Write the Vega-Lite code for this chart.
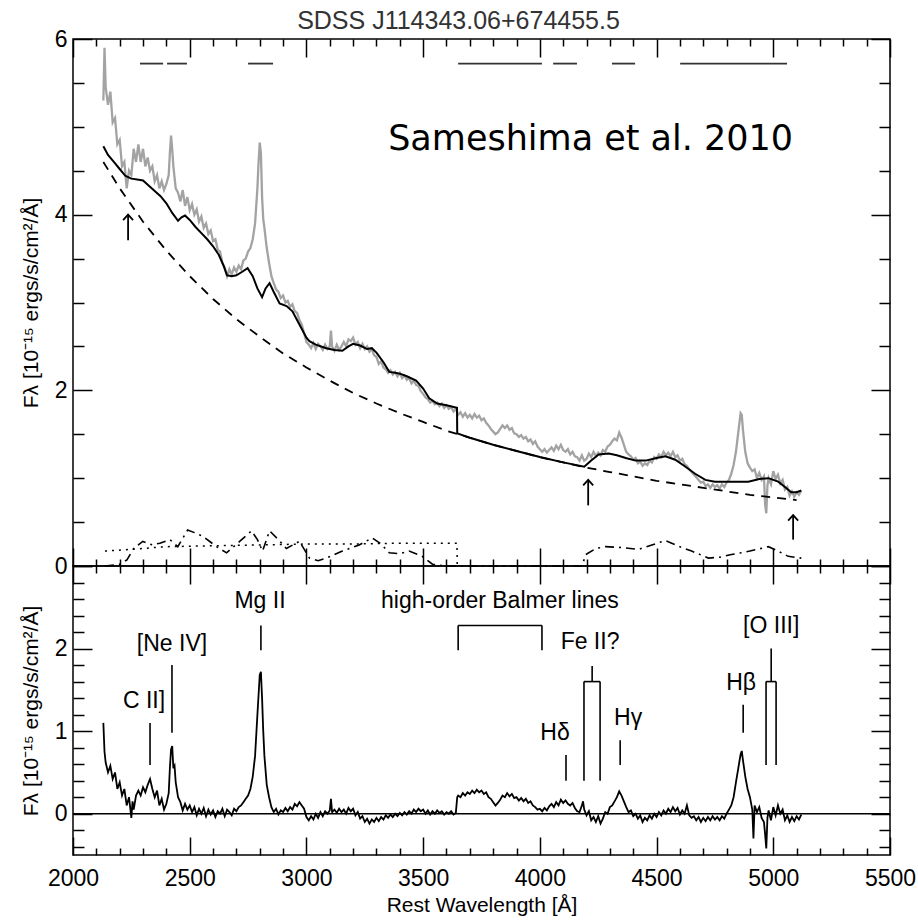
{
"$schema": "https://vega.github.io/schema/vega-lite/v6.json",
"padding": {"left": 19, "top": 8, "right": 5, "bottom": 2},
"spacing": 0,
"bounds": "flush",
"config": {
 "view": {"stroke": "black", "strokeWidth": 1.5},
 "axis": {"domain": false, "grid": false, "minExtent": 0, "tickColor": "black", "tickWidth": 1.5, "labelFont": "Liberation Sans", "labelFontSize": 23, "labelColor": "black", "labelFlush": false, "labelOverlap": false, "titleFont": "Liberation Sans", "titleFontSize": 21, "titleFontWeight": "normal", "titleColor": "black"},
 "text": {"font": "Liberation Sans"}
},
"datasets": {
 "gray": [
{"x":2130,"y":5.3},{"x":2135,"y":5.9},{"x":2140,"y":5.45},{"x":2150,"y":5.25},{"x":2160,"y":5.4},{"x":2170,"y":5.05},{"x":2180,"y":5.1},{"x":2190,"y":4.8},{"x":2200,"y":4.85},{"x":2210,"y":4.55},{"x":2220,"y":4.6},{"x":2230,"y":4.3},{"x":2240,"y":4.5},{"x":2250,"y":4.45},{"x":2260,"y":4.75},{"x":2270,"y":4.6},{"x":2280,"y":4.8},{"x":2290,"y":4.6},{"x":2300,"y":4.75},{"x":2310,"y":4.55},{"x":2320,"y":4.65},{"x":2330,"y":4.5},{"x":2340,"y":4.55},{"x":2350,"y":4.38},{"x":2360,"y":4.45},{"x":2370,"y":4.3},{"x":2380,"y":4.38},{"x":2390,"y":4.28},{"x":2400,"y":4.35},{"x":2410,"y":4.45},{"x":2415,"y":4.7},{"x":2420,"y":4.9},{"x":2425,"y":4.75},{"x":2430,"y":4.55},{"x":2440,"y":4.3},{"x":2450,"y":4.25},{"x":2460,"y":4.15},{"x":2470,"y":4.28},{"x":2480,"y":4.1},{"x":2490,"y":4.2},{"x":2500,"y":4.05},{"x":2510,"y":4.12},{"x":2520,"y":4.0},{"x":2530,"y":4.06},{"x":2540,"y":3.92},{"x":2550,"y":3.98},{"x":2560,"y":3.85},{"x":2570,"y":3.9},{"x":2580,"y":3.78},{"x":2590,"y":3.82},{"x":2600,"y":3.7},{"x":2610,"y":3.72},{"x":2620,"y":3.6},{"x":2630,"y":3.58},{"x":2640,"y":3.45},{"x":2650,"y":3.4},{"x":2660,"y":3.3},{"x":2670,"y":3.38},{"x":2680,"y":3.32},{"x":2690,"y":3.4},{"x":2700,"y":3.35},{"x":2710,"y":3.42},{"x":2720,"y":3.38},{"x":2730,"y":3.48},{"x":2740,"y":3.5},{"x":2750,"y":3.58},{"x":2760,"y":3.62},{"x":2770,"y":3.72},{"x":2780,"y":3.9},{"x":2790,"y":4.3},{"x":2795,"y":4.6},{"x":2800,"y":4.82},{"x":2805,"y":4.7},{"x":2810,"y":4.2},{"x":2815,"y":3.95},{"x":2820,"y":3.85},{"x":2830,"y":3.62},{"x":2840,"y":3.45},{"x":2850,"y":3.3},{"x":2860,"y":3.22},{"x":2870,"y":3.15},{"x":2880,"y":3.12},{"x":2890,"y":3.05},{"x":2900,"y":3.08},{"x":2910,"y":3.0},{"x":2920,"y":3.02},{"x":2930,"y":2.95},{"x":2940,"y":2.98},{"x":2950,"y":2.9},{"x":2960,"y":2.88},{"x":2970,"y":2.8},{"x":2980,"y":2.75},{"x":2990,"y":2.65},{"x":3000,"y":2.55},{"x":3010,"y":2.52},{"x":3020,"y":2.48},{"x":3030,"y":2.54},{"x":3040,"y":2.47},{"x":3050,"y":2.53},{"x":3060,"y":2.5},{"x":3070,"y":2.46},{"x":3080,"y":2.52},{"x":3090,"y":2.47},{"x":3100,"y":2.5},{"x":3105,"y":2.68},{"x":3110,"y":2.5},{"x":3120,"y":2.45},{"x":3130,"y":2.52},{"x":3140,"y":2.46},{"x":3150,"y":2.5},{"x":3160,"y":2.55},{"x":3170,"y":2.5},{"x":3180,"y":2.58},{"x":3190,"y":2.56},{"x":3200,"y":2.6},{"x":3210,"y":2.52},{"x":3220,"y":2.55},{"x":3230,"y":2.48},{"x":3240,"y":2.53},{"x":3250,"y":2.47},{"x":3260,"y":2.5},{"x":3270,"y":2.44},{"x":3280,"y":2.47},{"x":3290,"y":2.4},{"x":3300,"y":2.38},{"x":3310,"y":2.3},{"x":3320,"y":2.33},{"x":3330,"y":2.26},{"x":3340,"y":2.24},{"x":3350,"y":2.2},{"x":3360,"y":2.23},{"x":3370,"y":2.18},{"x":3380,"y":2.21},{"x":3390,"y":2.16},{"x":3400,"y":2.2},{"x":3410,"y":2.14},{"x":3420,"y":2.17},{"x":3430,"y":2.12},{"x":3440,"y":2.14},{"x":3450,"y":2.08},{"x":3460,"y":2.11},{"x":3470,"y":2.06},{"x":3480,"y":2.05},{"x":3490,"y":1.99},{"x":3500,"y":1.96},{"x":3510,"y":1.92},{"x":3520,"y":1.9},{"x":3530,"y":1.86},{"x":3540,"y":1.88},{"x":3550,"y":1.84},{"x":3560,"y":1.86},{"x":3570,"y":1.82},{"x":3580,"y":1.85},{"x":3590,"y":1.8},{"x":3600,"y":1.83},{"x":3610,"y":1.79},{"x":3620,"y":1.81},{"x":3630,"y":1.76},{"x":3640,"y":1.79},{"x":3650,"y":1.72},{"x":3660,"y":1.75},{"x":3670,"y":1.7},{"x":3680,"y":1.74},{"x":3690,"y":1.69},{"x":3700,"y":1.72},{"x":3710,"y":1.68},{"x":3720,"y":1.73},{"x":3730,"y":1.69},{"x":3740,"y":1.71},{"x":3750,"y":1.66},{"x":3760,"y":1.68},{"x":3770,"y":1.63},{"x":3780,"y":1.6},{"x":3790,"y":1.56},{"x":3800,"y":1.53},{"x":3810,"y":1.5},{"x":3820,"y":1.52},{"x":3830,"y":1.56},{"x":3840,"y":1.6},{"x":3850,"y":1.57},{"x":3860,"y":1.6},{"x":3870,"y":1.55},{"x":3880,"y":1.57},{"x":3890,"y":1.51},{"x":3900,"y":1.5},{"x":3910,"y":1.47},{"x":3920,"y":1.49},{"x":3930,"y":1.45},{"x":3940,"y":1.47},{"x":3950,"y":1.42},{"x":3960,"y":1.44},{"x":3970,"y":1.39},{"x":3980,"y":1.42},{"x":3990,"y":1.36},{"x":4000,"y":1.33},{"x":4010,"y":1.3},{"x":4020,"y":1.33},{"x":4030,"y":1.29},{"x":4040,"y":1.32},{"x":4050,"y":1.35},{"x":4060,"y":1.31},{"x":4070,"y":1.37},{"x":4080,"y":1.33},{"x":4090,"y":1.38},{"x":4100,"y":1.32},{"x":4110,"y":1.3},{"x":4120,"y":1.33},{"x":4130,"y":1.27},{"x":4140,"y":1.3},{"x":4150,"y":1.25},{"x":4160,"y":1.24},{"x":4170,"y":1.2},{"x":4180,"y":1.26},{"x":4190,"y":1.2},{"x":4200,"y":1.22},{"x":4210,"y":1.28},{"x":4220,"y":1.24},{"x":4230,"y":1.3},{"x":4240,"y":1.25},{"x":4250,"y":1.29},{"x":4260,"y":1.26},{"x":4270,"y":1.32},{"x":4280,"y":1.3},{"x":4290,"y":1.36},{"x":4300,"y":1.38},{"x":4310,"y":1.42},{"x":4320,"y":1.45},{"x":4330,"y":1.43},{"x":4340,"y":1.52},{"x":4350,"y":1.46},{"x":4360,"y":1.38},{"x":4370,"y":1.3},{"x":4380,"y":1.27},{"x":4390,"y":1.25},{"x":4400,"y":1.21},{"x":4410,"y":1.23},{"x":4420,"y":1.17},{"x":4430,"y":1.19},{"x":4440,"y":1.14},{"x":4450,"y":1.17},{"x":4460,"y":1.15},{"x":4470,"y":1.2},{"x":4480,"y":1.18},{"x":4490,"y":1.24},{"x":4500,"y":1.22},{"x":4510,"y":1.27},{"x":4520,"y":1.24},{"x":4530,"y":1.3},{"x":4540,"y":1.26},{"x":4550,"y":1.29},{"x":4560,"y":1.25},{"x":4570,"y":1.3},{"x":4580,"y":1.24},{"x":4590,"y":1.26},{"x":4600,"y":1.2},{"x":4610,"y":1.22},{"x":4620,"y":1.16},{"x":4630,"y":1.14},{"x":4640,"y":1.1},{"x":4650,"y":1.07},{"x":4660,"y":1.04},{"x":4670,"y":1.01},{"x":4680,"y":0.98},{"x":4690,"y":0.95},{"x":4700,"y":0.96},{"x":4710,"y":0.91},{"x":4720,"y":0.93},{"x":4730,"y":0.89},{"x":4740,"y":0.93},{"x":4750,"y":0.9},{"x":4760,"y":0.92},{"x":4770,"y":0.88},{"x":4780,"y":0.93},{"x":4790,"y":0.9},{"x":4800,"y":0.95},{"x":4810,"y":0.98},{"x":4820,"y":1.05},{"x":4830,"y":1.15},{"x":4840,"y":1.3},{"x":4850,"y":1.52},{"x":4860,"y":1.74},{"x":4865,"y":1.72},{"x":4870,"y":1.55},{"x":4880,"y":1.3},{"x":4890,"y":1.17},{"x":4900,"y":1.12},{"x":4910,"y":1.08},{"x":4920,"y":1.1},{"x":4930,"y":1.0},{"x":4940,"y":1.06},{"x":4950,"y":0.98},{"x":4960,"y":1.02},{"x":4965,"y":0.7},{"x":4970,"y":0.6},{"x":4975,"y":0.92},{"x":4980,"y":1.0},{"x":4990,"y":0.93},{"x":5000,"y":1.08},{"x":5010,"y":0.99},{"x":5020,"y":1.04},{"x":5030,"y":0.94},{"x":5040,"y":0.98},{"x":5050,"y":0.87},{"x":5060,"y":0.9},{"x":5070,"y":0.8},{"x":5080,"y":0.85},{"x":5090,"y":0.79},{"x":5100,"y":0.84},{"x":5110,"y":0.81},{"x":5120,"y":0.86}
 ],
 "model": [
{"x":2130,"y":4.78},{"x":2150,"y":4.68},{"x":2175,"y":4.6},{"x":2200,"y":4.52},{"x":2225,"y":4.44},{"x":2250,"y":4.41},{"x":2275,"y":4.4},{"x":2300,"y":4.39},{"x":2325,"y":4.33},{"x":2350,"y":4.27},{"x":2375,"y":4.21},{"x":2400,"y":4.13},{"x":2425,"y":4.02},{"x":2450,"y":3.93},{"x":2465,"y":3.97},{"x":2480,"y":3.99},{"x":2500,"y":3.94},{"x":2525,"y":3.86},{"x":2550,"y":3.79},{"x":2575,"y":3.72},{"x":2600,"y":3.64},{"x":2625,"y":3.54},{"x":2645,"y":3.42},{"x":2660,"y":3.31},{"x":2680,"y":3.3},{"x":2700,"y":3.31},{"x":2725,"y":3.35},{"x":2748,"y":3.39},{"x":2770,"y":3.3},{"x":2790,"y":3.16},{"x":2810,"y":3.06},{"x":2825,"y":3.16},{"x":2842,"y":3.22},{"x":2860,"y":3.12},{"x":2885,"y":2.99},{"x":2915,"y":2.96},{"x":2940,"y":2.9},{"x":2970,"y":2.75},{"x":3000,"y":2.6},{"x":3013,"y":2.56},{"x":3040,"y":2.52},{"x":3085,"y":2.48},{"x":3120,"y":2.46},{"x":3154,"y":2.45},{"x":3180,"y":2.5},{"x":3200,"y":2.53},{"x":3230,"y":2.51},{"x":3260,"y":2.47},{"x":3280,"y":2.48},{"x":3300,"y":2.43},{"x":3330,"y":2.32},{"x":3355,"y":2.21},{"x":3380,"y":2.2},{"x":3400,"y":2.19},{"x":3430,"y":2.16},{"x":3470,"y":2.11},{"x":3500,"y":2.02},{"x":3526,"y":1.91},{"x":3560,"y":1.85},{"x":3600,"y":1.83},{"x":3645,"y":1.8},{"x":3646,"y":1.51},{"x":3700,"y":1.46},{"x":3800,"y":1.38},{"x":3900,"y":1.31},{"x":4000,"y":1.24},{"x":4100,"y":1.18},{"x":4190,"y":1.13},{"x":4220,"y":1.2},{"x":4252,"y":1.27},{"x":4295,"y":1.28},{"x":4330,"y":1.26},{"x":4368,"y":1.23},{"x":4410,"y":1.2},{"x":4453,"y":1.2},{"x":4500,"y":1.23},{"x":4538,"y":1.25},{"x":4580,"y":1.21},{"x":4624,"y":1.13},{"x":4665,"y":1.05},{"x":4709,"y":0.98},{"x":4750,"y":0.96},{"x":4800,"y":0.96},{"x":4850,"y":0.96},{"x":4893,"y":0.96},{"x":4940,"y":0.99},{"x":4979,"y":1.0},{"x":5021,"y":0.96},{"x":5050,"y":0.9},{"x":5077,"y":0.84},{"x":5100,"y":0.84},{"x":5120,"y":0.86}
 ],
 "plaw": [
{"x":2130,"y":4.6},{"x":2200,"y":4.3},{"x":2300,"y":3.92},{"x":2400,"y":3.59},{"x":2500,"y":3.3},{"x":2600,"y":3.04},{"x":2700,"y":2.81},{"x":2800,"y":2.61},{"x":2900,"y":2.42},{"x":3000,"y":2.26},{"x":3100,"y":2.11},{"x":3200,"y":1.97},{"x":3300,"y":1.85},{"x":3400,"y":1.74},{"x":3500,"y":1.64},{"x":3600,"y":1.54},{"x":3700,"y":1.46},{"x":3800,"y":1.38},{"x":3900,"y":1.31},{"x":4000,"y":1.24},{"x":4100,"y":1.18},{"x":4200,"y":1.12},{"x":4300,"y":1.07},{"x":4400,"y":1.02},{"x":4500,"y":0.97},{"x":4600,"y":0.93},{"x":4700,"y":0.89},{"x":4800,"y":0.85},{"x":4900,"y":0.81},{"x":5000,"y":0.78},{"x":5100,"y":0.75}
 ],
 "balmer": [
{"x":2137,"y":0.17},{"x":2250,"y":0.19},{"x":2400,"y":0.22},{"x":2600,"y":0.23},{"x":2800,"y":0.24},{"x":3000,"y":0.25},{"x":3200,"y":0.25},{"x":3400,"y":0.26},{"x":3645,"y":0.26},{"x":3646,"y":0.0}
 ],
 "feii": [
{"x":2137,"y":0.0},{"x":2200,"y":0.02},{"x":2231,"y":0.07},{"x":2260,"y":0.2},{"x":2299,"y":0.28},{"x":2340,"y":0.24},{"x":2372,"y":0.26},{"x":2415,"y":0.3},{"x":2449,"y":0.22},{"x":2491,"y":0.41},{"x":2520,"y":0.38},{"x":2556,"y":0.34},{"x":2615,"y":0.22},{"x":2658,"y":0.15},{"x":2714,"y":0.28},{"x":2765,"y":0.4},{"x":2790,"y":0.3},{"x":2812,"y":0.17},{"x":2842,"y":0.4},{"x":2880,"y":0.3},{"x":2914,"y":0.2},{"x":2970,"y":0.28},{"x":3013,"y":0.09},{"x":3050,"y":0.06},{"x":3085,"y":0.09},{"x":3154,"y":0.17},{"x":3226,"y":0.24},{"x":3282,"y":0.32},{"x":3320,"y":0.25},{"x":3355,"y":0.15},{"x":3400,"y":0.14},{"x":3440,"y":0.17},{"x":3496,"y":0.11},{"x":3540,"y":0.02},{"x":3600,"y":0.0},{"x":3800,"y":0.0},{"x":4000,"y":0.0},{"x":4180,"y":0.0},{"x":4197,"y":0.13},{"x":4240,"y":0.2},{"x":4282,"y":0.22},{"x":4350,"y":0.21},{"x":4423,"y":0.19},{"x":4480,"y":0.24},{"x":4538,"y":0.29},{"x":4600,"y":0.22},{"x":4650,"y":0.17},{"x":4722,"y":0.09},{"x":4770,"y":0.1},{"x":4821,"y":0.13},{"x":4900,"y":0.17},{"x":4979,"y":0.22},{"x":5020,"y":0.17},{"x":5064,"y":0.11},{"x":5120,"y":0.09}
 ],
 "segs": [
{"x":2287,"x2":2386,"y":5.72},{"x":2403,"x2":2488,"y":5.72},{"x":2750,"x2":2857,"y":5.72},{"x":3650,"x2":4009,"y":5.72},{"x":4057,"x2":4159,"y":5.72},{"x":4309,"x2":4408,"y":5.72},{"x":4601,"x2":5059,"y":5.72}
 ],
 "arrows": [
{"x":2236,"y":3.71,"y2":4.0},{"x":4207,"y":0.69,"y2":0.98},{"x":5085,"y":0.3,"y2":0.58}
 ],
 "resid": [
{"x":2130,"y":1.1},{"x":2135,"y":0.75},{"x":2140,"y":0.62},{"x":2150,"y":0.5},{"x":2160,"y":0.58},{"x":2170,"y":0.42},{"x":2180,"y":0.5},{"x":2190,"y":0.3},{"x":2200,"y":0.38},{"x":2210,"y":0.22},{"x":2220,"y":0.3},{"x":2230,"y":0.1},{"x":2240,"y":0.2},{"x":2250,"y":-0.05},{"x":2255,"y":0.15},{"x":2260,"y":0.05},{"x":2270,"y":0.22},{"x":2280,"y":0.28},{"x":2290,"y":0.22},{"x":2300,"y":0.32},{"x":2310,"y":0.26},{"x":2320,"y":0.35},{"x":2330,"y":0.42},{"x":2340,"y":0.3},{"x":2350,"y":0.2},{"x":2360,"y":0.28},{"x":2370,"y":0.1},{"x":2380,"y":0.18},{"x":2390,"y":0.05},{"x":2400,"y":0.12},{"x":2410,"y":0.25},{"x":2415,"y":0.55},{"x":2420,"y":0.78},{"x":2425,"y":0.82},{"x":2430,"y":0.55},{"x":2435,"y":0.58},{"x":2440,"y":0.38},{"x":2450,"y":0.2},{"x":2460,"y":0.14},{"x":2470,"y":0.04},{"x":2480,"y":0.12},{"x":2490,"y":0.05},{"x":2500,"y":0.1},{"x":2510,"y":0.02},{"x":2520,"y":0.08},{"x":2530,"y":-0.02},{"x":2540,"y":0.06},{"x":2550,"y":0.0},{"x":2560,"y":0.07},{"x":2570,"y":-0.03},{"x":2580,"y":0.05},{"x":2590,"y":-0.01},{"x":2600,"y":0.04},{"x":2610,"y":-0.04},{"x":2620,"y":0.03},{"x":2630,"y":0.0},{"x":2640,"y":0.06},{"x":2650,"y":-0.03},{"x":2660,"y":0.05},{"x":2670,"y":0.02},{"x":2680,"y":-0.02},{"x":2690,"y":0.06},{"x":2700,"y":0.03},{"x":2710,"y":0.08},{"x":2720,"y":0.1},{"x":2730,"y":0.14},{"x":2740,"y":0.18},{"x":2750,"y":0.22},{"x":2760,"y":0.3},{"x":2770,"y":0.45},{"x":2780,"y":0.7},{"x":2790,"y":1.2},{"x":2800,"y":1.68},{"x":2805,"y":1.72},{"x":2810,"y":1.4},{"x":2815,"y":1.0},{"x":2820,"y":0.7},{"x":2830,"y":0.35},{"x":2840,"y":0.2},{"x":2850,"y":0.08},{"x":2860,"y":0.02},{"x":2870,"y":0.06},{"x":2880,"y":-0.01},{"x":2890,"y":0.04},{"x":2900,"y":0.02},{"x":2910,"y":0.07},{"x":2920,"y":0.03},{"x":2930,"y":0.08},{"x":2940,"y":0.05},{"x":2950,"y":0.12},{"x":2960,"y":0.09},{"x":2970,"y":0.14},{"x":2980,"y":0.1},{"x":2990,"y":0.06},{"x":3000,"y":-0.04},{"x":3010,"y":-0.08},{"x":3020,"y":-0.03},{"x":3030,"y":-0.07},{"x":3040,"y":0.0},{"x":3050,"y":-0.05},{"x":3060,"y":0.02},{"x":3070,"y":-0.03},{"x":3080,"y":0.03},{"x":3090,"y":0.0},{"x":3100,"y":0.04},{"x":3105,"y":0.18},{"x":3110,"y":0.02},{"x":3120,"y":0.05},{"x":3130,"y":0.01},{"x":3140,"y":0.06},{"x":3150,"y":0.02},{"x":3160,"y":0.05},{"x":3170,"y":0.0},{"x":3180,"y":0.07},{"x":3190,"y":0.03},{"x":3200,"y":0.06},{"x":3210,"y":-0.02},{"x":3220,"y":0.02},{"x":3230,"y":-0.06},{"x":3240,"y":-0.03},{"x":3250,"y":-0.1},{"x":3260,"y":-0.06},{"x":3270,"y":-0.12},{"x":3280,"y":-0.07},{"x":3290,"y":-0.1},{"x":3300,"y":-0.05},{"x":3310,"y":-0.09},{"x":3320,"y":-0.04},{"x":3330,"y":-0.07},{"x":3340,"y":-0.02},{"x":3350,"y":-0.05},{"x":3360,"y":-0.01},{"x":3370,"y":-0.04},{"x":3380,"y":0.0},{"x":3390,"y":-0.03},{"x":3400,"y":0.01},{"x":3410,"y":-0.02},{"x":3420,"y":0.02},{"x":3430,"y":-0.01},{"x":3440,"y":0.03},{"x":3450,"y":0.0},{"x":3460,"y":0.05},{"x":3470,"y":0.02},{"x":3480,"y":0.06},{"x":3490,"y":0.03},{"x":3500,"y":0.05},{"x":3510,"y":0.0},{"x":3520,"y":0.04},{"x":3530,"y":-0.01},{"x":3540,"y":0.03},{"x":3550,"y":0.0},{"x":3560,"y":0.04},{"x":3570,"y":0.01},{"x":3580,"y":0.03},{"x":3590,"y":-0.01},{"x":3600,"y":0.02},{"x":3610,"y":0.0},{"x":3620,"y":0.03},{"x":3630,"y":-0.01},{"x":3640,"y":0.01},{"x":3646,"y":0.2},{"x":3650,"y":0.22},{"x":3660,"y":0.2},{"x":3670,"y":0.25},{"x":3680,"y":0.22},{"x":3690,"y":0.26},{"x":3700,"y":0.24},{"x":3710,"y":0.28},{"x":3720,"y":0.25},{"x":3730,"y":0.29},{"x":3740,"y":0.26},{"x":3750,"y":0.28},{"x":3760,"y":0.24},{"x":3770,"y":0.26},{"x":3780,"y":0.2},{"x":3790,"y":0.18},{"x":3800,"y":0.14},{"x":3810,"y":0.1},{"x":3820,"y":0.13},{"x":3830,"y":0.17},{"x":3840,"y":0.22},{"x":3850,"y":0.2},{"x":3860,"y":0.25},{"x":3870,"y":0.21},{"x":3880,"y":0.24},{"x":3890,"y":0.19},{"x":3900,"y":0.2},{"x":3910,"y":0.16},{"x":3920,"y":0.19},{"x":3930,"y":0.15},{"x":3940,"y":0.18},{"x":3950,"y":0.13},{"x":3960,"y":0.15},{"x":3970,"y":0.1},{"x":3980,"y":0.08},{"x":3990,"y":0.05},{"x":4000,"y":0.06},{"x":4010,"y":0.03},{"x":4020,"y":0.07},{"x":4030,"y":0.04},{"x":4040,"y":0.09},{"x":4050,"y":0.12},{"x":4060,"y":0.08},{"x":4070,"y":0.14},{"x":4080,"y":0.1},{"x":4090,"y":0.17},{"x":4100,"y":0.13},{"x":4110,"y":0.16},{"x":4120,"y":0.12},{"x":4130,"y":0.1},{"x":4140,"y":0.13},{"x":4150,"y":0.07},{"x":4160,"y":0.03},{"x":4170,"y":0.02},{"x":4180,"y":0.1},{"x":4185,"y":0.15},{"x":4190,"y":0.05},{"x":4200,"y":-0.02},{"x":4210,"y":0.03},{"x":4220,"y":-0.08},{"x":4230,"y":-0.04},{"x":4240,"y":-0.1},{"x":4250,"y":-0.03},{"x":4260,"y":-0.12},{"x":4270,"y":-0.06},{"x":4280,"y":0.02},{"x":4290,"y":0.0},{"x":4300,"y":0.08},{"x":4310,"y":0.1},{"x":4320,"y":0.15},{"x":4330,"y":0.2},{"x":4340,"y":0.27},{"x":4350,"y":0.22},{"x":4360,"y":0.15},{"x":4370,"y":0.08},{"x":4380,"y":0.02},{"x":4390,"y":0.04},{"x":4400,"y":-0.03},{"x":4410,"y":0.0},{"x":4420,"y":-0.06},{"x":4430,"y":-0.02},{"x":4440,"y":-0.1},{"x":4450,"y":-0.05},{"x":4460,"y":-0.08},{"x":4470,"y":-0.02},{"x":4480,"y":-0.06},{"x":4490,"y":0.0},{"x":4500,"y":-0.04},{"x":4510,"y":0.02},{"x":4520,"y":-0.02},{"x":4530,"y":0.04},{"x":4540,"y":0.0},{"x":4550,"y":0.06},{"x":4560,"y":0.02},{"x":4570,"y":0.08},{"x":4580,"y":0.03},{"x":4590,"y":0.07},{"x":4600,"y":-0.01},{"x":4610,"y":0.04},{"x":4620,"y":0.0},{"x":4630,"y":0.1},{"x":4640,"y":-0.02},{"x":4650,"y":-0.05},{"x":4660,"y":-0.03},{"x":4670,"y":-0.08},{"x":4680,"y":-0.04},{"x":4690,"y":-0.1},{"x":4700,"y":-0.05},{"x":4710,"y":-0.09},{"x":4720,"y":-0.04},{"x":4730,"y":-0.08},{"x":4740,"y":-0.03},{"x":4750,"y":-0.07},{"x":4760,"y":-0.04},{"x":4770,"y":-0.08},{"x":4780,"y":-0.03},{"x":4790,"y":-0.06},{"x":4800,"y":0.0},{"x":4810,"y":0.05},{"x":4820,"y":0.1},{"x":4830,"y":0.2},{"x":4840,"y":0.38},{"x":4850,"y":0.55},{"x":4860,"y":0.72},{"x":4865,"y":0.76},{"x":4870,"y":0.65},{"x":4880,"y":0.45},{"x":4890,"y":0.3},{"x":4900,"y":0.2},{"x":4910,"y":0.05},{"x":4915,"y":-0.3},{"x":4920,"y":0.1},{"x":4930,"y":0.02},{"x":4940,"y":0.08},{"x":4950,"y":-0.05},{"x":4960,"y":-0.1},{"x":4965,"y":-0.25},{"x":4970,"y":-0.42},{"x":4975,"y":-0.05},{"x":4980,"y":0.04},{"x":4990,"y":-0.08},{"x":5000,"y":0.08},{"x":5010,"y":-0.02},{"x":5020,"y":0.1},{"x":5030,"y":0.0},{"x":5040,"y":0.05},{"x":5050,"y":-0.08},{"x":5060,"y":-0.02},{"x":5070,"y":-0.1},{"x":5080,"y":-0.04},{"x":5090,"y":-0.09},{"x":5100,"y":-0.03},{"x":5110,"y":-0.07},{"x":5120,"y":-0.01}
 ],
 "marks": [
{"x":2000,"x2":5500,"y":0,"y2":0},
{"x":2330,"x2":2330,"y":0.59,"y2":1.1},
{"x":2424,"x2":2424,"y":0.98,"y2":1.8},
{"x":2805,"x2":2805,"y":1.98,"y2":2.28},
{"x":3650,"x2":3650,"y":1.98,"y2":2.28},{"x":3650,"x2":4009,"y":2.28,"y2":2.28},{"x":4009,"x2":4009,"y":2.28,"y2":1.98},
{"x":4224,"x2":4224,"y":1.6,"y2":1.79},{"x":4189,"x2":4258,"y":1.6,"y2":1.6},{"x":4189,"x2":4189,"y":1.6,"y2":0.4},{"x":4258,"x2":4258,"y":1.6,"y2":0.4},
{"x":4112,"x2":4112,"y":0.4,"y2":0.71},
{"x":4344,"x2":4344,"y":0.59,"y2":0.89},
{"x":4871,"x2":4871,"y":0.98,"y2":1.32},
{"x":4991,"x2":4991,"y":1.6,"y2":2.0},{"x":4969,"x2":5012,"y":1.6,"y2":1.6},{"x":4969,"x2":4969,"y":1.6,"y2":0.59},{"x":5012,"x2":5012,"y":1.6,"y2":0.59}
 ],
 "labels": [
{"x":2304,"y":1.37,"t":"C II]"},{"x":2424,"y":2.05,"t":"[Ne IV]"},{"x":2801,"y":2.58,"t":"Mg II"},{"x":3829,"y":2.58,"t":"high-order Balmer lines"},{"x":4215,"y":2.08,"t":"Fe II?"},{"x":4065,"y":0.98,"t":"Hδ"},{"x":4378,"y":1.16,"t":"Hγ"},{"x":4862,"y":1.58,"t":"Hβ"},{"x":4991,"y":2.27,"t":"[O III]"}
 ]
},
"vconcat": [
 {
  "width": 817, "height": 527,
  "title": {"text": "SDSS J114343.06+674455.5", "font": "Liberation Sans", "fontSize": 25, "fontWeight": "normal", "color": "#333333", "offset": -6, "anchor": "middle", "frame": "group", "dx": -23},
  "encoding": {
   "x": {"field": "x", "type": "quantitative", "scale": {"domain": [2000, 5500], "nice": false, "zero": false}, "axis": null},
   "y": {"field": "y", "type": "quantitative", "scale": {"domain": [0, 6], "nice": false, "zero": false}, "axis": null}
  },
  "layer": [
   {"data": {"name": "gray"}, "mark": {"type": "line", "color": "#a3a3a3", "strokeWidth": 2.3},
    "encoding": {
     "x": {"field": "x", "type": "quantitative", "scale": {"domain": [2000, 5500], "nice": false, "zero": false},
       "axis": {"orient": "bottom", "title": null, "labels": false, "maxExtent": 0, "values": [2000,2100,2200,2300,2400,2500,2600,2700,2800,2900,3000,3100,3200,3300,3400,3500,3600,3700,3800,3900,4000,4100,4200,4300,4400,4500,4600,4700,4800,4900,5000,5100,5200,5300,5400,5500],
         "tickSize": {"condition": {"test": "datum.value % 500 === 0", "value": -18}, "value": -7}}},
     "y": {"field": "y", "type": "quantitative", "scale": {"domain": [0, 6], "nice": false, "zero": false},
       "axis": {"orient": "left", "title": "Fλ [10⁻¹⁵ ergs/s/cm²/Å]", "titleX": -42, "titleBaseline": "middle", "values": [0,0.5,1,1.5,2,2.5,3,3.5,4,4.5,5,5.5,6],
         "labelExpr": "datum.value % 2 === 0 ? format(datum.value, '.0f') : ''", "labelPadding": 25,
         "tickSize": {"condition": {"test": "datum.value % 2 === 0", "value": -19}, "value": -11}}}
    }},
   {"data": {"name": "plaw"}, "mark": {"type": "line", "color": "black", "strokeWidth": 1.8, "strokeDash": [9, 7]}},
   {"data": {"name": "balmer"}, "mark": {"type": "line", "color": "black", "strokeWidth": 1.5, "strokeDash": [2, 5]}},
   {"data": {"name": "feii"}, "mark": {"type": "line", "color": "black", "strokeWidth": 1.6, "strokeDash": [9, 5, 2, 5]}},
   {"data": {"name": "model"}, "mark": {"type": "line", "color": "black", "strokeWidth": 2}},
   {"data": {"name": "segs"}, "mark": {"type": "rule", "color": "#333333", "strokeWidth": 1.8},
    "encoding": {
     "x": {"field": "x", "type": "quantitative", "scale": {"domain": [2000, 5500], "nice": false, "zero": false},
       "axis": {"orient": "top", "title": null, "labels": false, "maxExtent": 0, "values": [2000,2100,2200,2300,2400,2500,2600,2700,2800,2900,3000,3100,3200,3300,3400,3500,3600,3700,3800,3900,4000,4100,4200,4300,4400,4500,4600,4700,4800,4900,5000,5100,5200,5300,5400,5500],
         "tickSize": {"condition": {"test": "datum.value % 500 === 0", "value": -18}, "value": -7}}},
     "x2": {"field": "x2"},
     "y": {"field": "y", "type": "quantitative", "scale": {"domain": [0, 6], "nice": false, "zero": false},
       "axis": {"orient": "right", "title": null, "labels": false, "maxExtent": 0, "values": [0,0.5,1,1.5,2,2.5,3,3.5,4,4.5,5,5.5,6],
         "tickSize": {"condition": {"test": "datum.value % 2 === 0", "value": -19}, "value": -11}}}
    }},
   {"data": {"name": "arrows"}, "mark": {"type": "rule", "color": "black", "strokeWidth": 1.8},
    "encoding": {"y2": {"field": "y2"}}},
   {"data": {"name": "arrows"}, "mark": {"type": "point", "shape": "M-1,1.1L0,0L1,1.1", "filled": false, "color": "black", "strokeWidth": 1.8, "size": 100, "opacity": 1},
    "encoding": {"y": {"field": "y2", "type": "quantitative", "scale": {"domain": [0, 6], "nice": false, "zero": false}, "axis": null}}},
   {"data": {"values": [{"x": 3350, "y": 4.74, "t": "Sameshima et al. 2010"}]}, "mark": {"type": "text", "align": "left", "baseline": "alphabetic", "font": "DejaVu Sans", "fontSize": 35, "color": "black"},
    "encoding": {"text": {"field": "t"}}}
  ],
  "resolve": {"axis": {"x": "independent", "y": "independent"}}
 },
 {
  "width": 817, "height": 289,
  "encoding": {
   "x": {"field": "x", "type": "quantitative", "scale": {"domain": [2000, 5500], "nice": false, "zero": false}, "axis": null},
   "y": {"field": "y", "type": "quantitative", "scale": {"domain": [-0.5, 3], "nice": false, "zero": false}, "axis": null}
  },
  "layer": [
   {"data": {"name": "marks"}, "mark": {"type": "rule", "color": "black", "strokeWidth": 1.6},
    "encoding": {
     "x": {"field": "x", "type": "quantitative", "scale": {"domain": [2000, 5500], "nice": false, "zero": false},
       "axis": {"orient": "top", "title": null, "labels": false, "maxExtent": 0, "values": [2000,2100,2200,2300,2400,2500,2600,2700,2800,2900,3000,3100,3200,3300,3400,3500,3600,3700,3800,3900,4000,4100,4200,4300,4400,4500,4600,4700,4800,4900,5000,5100,5200,5300,5400,5500],
         "tickSize": {"condition": {"test": "datum.value % 500 === 0", "value": -18}, "value": -7}}},
     "x2": {"field": "x2"},
     "y": {"field": "y", "type": "quantitative", "scale": {"domain": [-0.5, 3], "nice": false, "zero": false},
       "axis": {"orient": "right", "title": null, "labels": false, "maxExtent": 0, "values": [-0.4,-0.2,0,0.2,0.4,0.6,0.8,1,1.2,1.4,1.6,1.8,2,2.2,2.4,2.6,2.8,3],
         "tickSize": {"condition": {"test": "abs(datum.value - round(datum.value)) < 0.001", "value": -19}, "value": -11}}},
     "y2": {"field": "y2"}
    }},
   {"data": {"name": "resid"}, "mark": {"type": "line", "color": "black", "strokeWidth": 1.8},
    "encoding": {
     "x": {"field": "x", "type": "quantitative", "scale": {"domain": [2000, 5500], "nice": false, "zero": false},
       "axis": {"orient": "bottom", "title": "Rest Wavelength [Å]", "titleFontSize": 21, "titlePadding": -7, "values": [2000,2100,2200,2300,2400,2500,2600,2700,2800,2900,3000,3100,3200,3300,3400,3500,3600,3700,3800,3900,4000,4100,4200,4300,4400,4500,4600,4700,4800,4900,5000,5100,5200,5300,5400,5500],
         "labelExpr": "datum.value % 500 === 0 ? format(datum.value, 'd') : ''", "labelPadding": 30,
         "tickSize": {"condition": {"test": "datum.value % 500 === 0", "value": -18}, "value": -7}}},
     "y": {"field": "y", "type": "quantitative", "scale": {"domain": [-0.5, 3], "nice": false, "zero": false},
       "axis": {"orient": "left", "title": "Fλ [10⁻¹⁵ ergs/s/cm²/Å]", "titleX": -42, "titleBaseline": "middle", "values": [-0.4,-0.2,0,0.2,0.4,0.6,0.8,1,1.2,1.4,1.6,1.8,2,2.2,2.4,2.6,2.8,3],
         "labelExpr": "abs(datum.value - round(datum.value)) < 0.001 && datum.value < 2.5 ? format(datum.value, '.0f') : ''", "labelPadding": 25,
         "tickSize": {"condition": {"test": "abs(datum.value - round(datum.value)) < 0.001", "value": -19}, "value": -11}}}
    }},
   {"data": {"name": "labels"}, "mark": {"type": "text", "align": "center", "baseline": "middle", "fontSize": 23, "color": "black"},
    "encoding": {"text": {"field": "t"}}}
  ],
  "resolve": {"axis": {"x": "independent", "y": "independent"}}
 }
]
}
